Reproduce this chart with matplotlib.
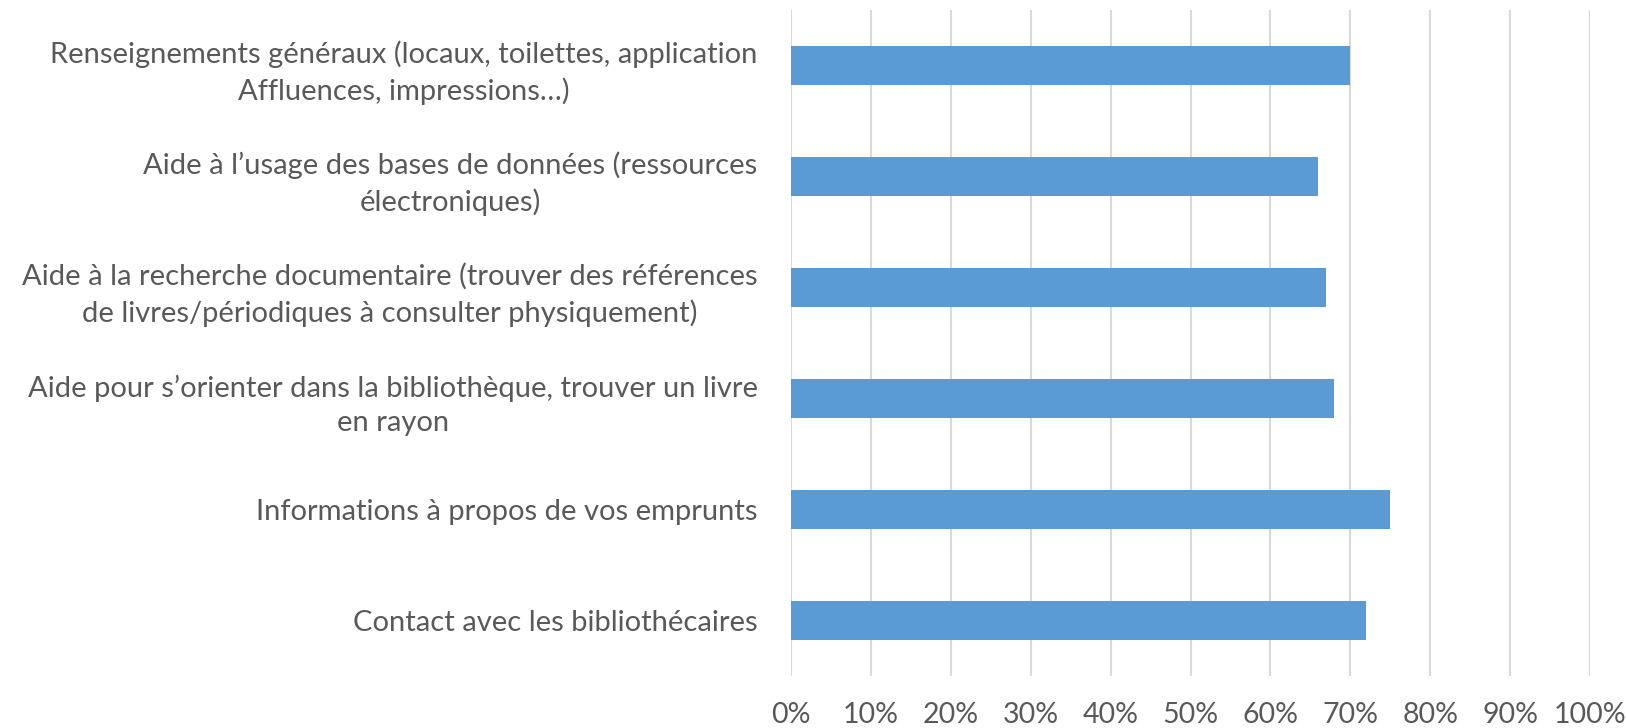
import matplotlib.pyplot as plt
from matplotlib.ticker import PercentFormatter

# categories top to bottom
categories = [
    "Renseignements généraux (locaux, toilettes, application\nAffluences, impressions…)",
    "Aide à l’usage des bases de données (ressources\nélectroniques)",
    "Aide à la recherche documentaire (trouver des références\nde livres/périodiques à consulter physiquement)",
    "Aide pour s’orienter dans la bibliothèque, trouver un livre\nen rayon",
    "Informations à propos de vos emprunts",
    "Contact avec les bibliothécaires",
]
values = [70, 66, 67, 68, 75, 72]
xticks = list(range(0, 101, 10))

plt.rcParams['font.family'] = ['Lato', 'DejaVu Sans']
text_color = '#595959'
grid_color = '#d9d9d9'
bar_color = '#5b9bd5'

W, H, dpi = 1626, 728, 100
fig = plt.figure(figsize=(W / dpi, H / dpi), dpi=dpi)
# axes box in pixel coordinates
left, right, top, bottom = 791, 1590, 10, 676
ax = fig.add_axes([left / W, 1 - bottom / H, (right - left) / W, (bottom - top) / H])

y = list(range(len(categories)))
ax.barh(y, values, height=0.35, color=bar_color, zorder=3)

ax.set_xlim(0, 100)
ax.set_ylim(len(categories) - 0.5, -0.5)
ax.set_xticks(xticks)
ax.xaxis.set_major_formatter(PercentFormatter(decimals=0))
ax.set_yticks(y)
ax.set_yticklabels(categories)
plt.setp(ax.get_yticklabels(), multialignment='center', linespacing=1.42)

ax.grid(axis='x', color=grid_color, linewidth=1.5, zorder=0)
for s in ax.spines.values():
    s.set_visible(False)
ax.tick_params(axis='both', length=0, colors=text_color)
ax.tick_params(axis='y', labelsize=21, pad=24)
ax.tick_params(axis='x', labelsize=20.5, pad=19)

fig.savefig('out.png', dpi=dpi, facecolor='white')
